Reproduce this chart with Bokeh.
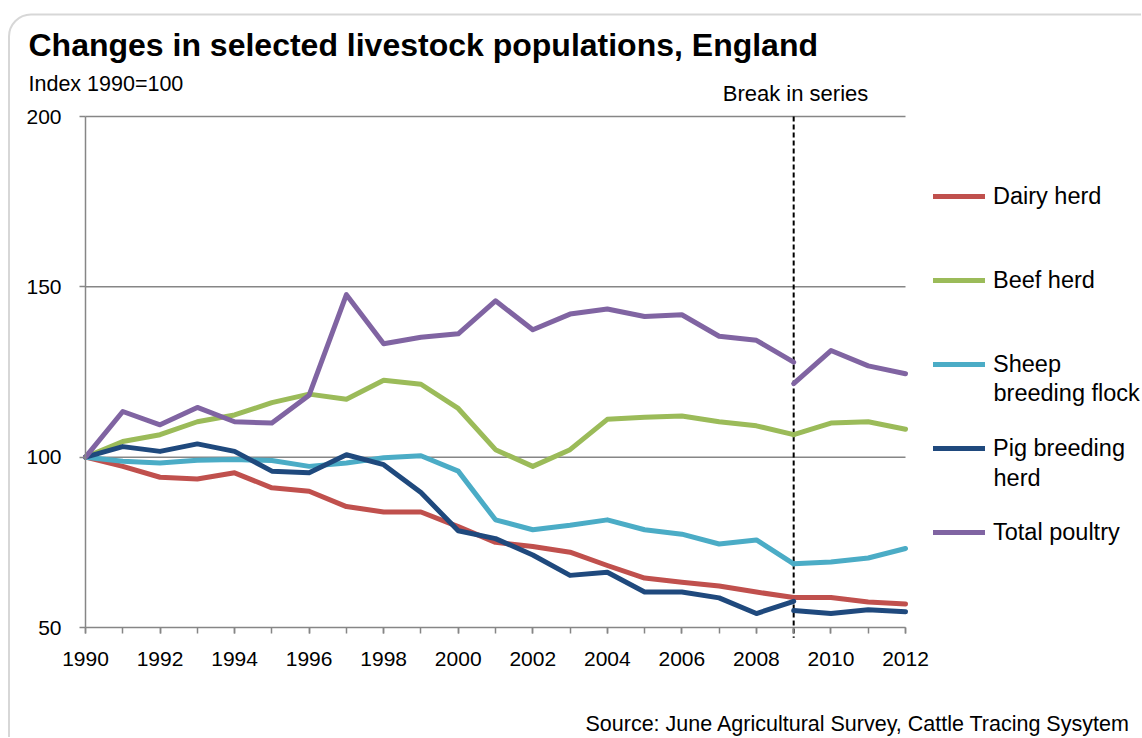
from bokeh.plotting import figure
from bokeh.models import Label, Legend, LegendItem, FixedTicker, BoxAnnotation
from bokeh.embed import file_html
from bokeh.resources import INLINE

# ---------------- data ----------------
years_old = list(range(1990, 2010))
years_new = [2009, 2010, 2011, 2012]

dairy_old = [100, 97.3, 94.1, 93.6, 95.4, 91.0, 90.0, 85.5, 83.9, 83.9,
             79.6, 75.0, 73.8, 72.1, 68.2, 64.5, 63.3, 62.2, 60.4, 58.8]
dairy_new = [58.8, 58.8, 57.5, 56.9]

beef_old = [100, 104.6, 106.6, 110.4, 112.4, 116.0, 118.5, 117.0, 122.6, 121.4,
            114.3, 102.2, 97.3, 102.2, 111.1, 111.7, 112.1, 110.4, 109.2, 106.6]
beef_new = [106.6, 110.0, 110.4, 108.2]

sheep_old = [100, 98.8, 98.3, 99.1, 99.3, 99.0, 97.3, 98.3, 99.8, 100.4,
             95.9, 81.6, 78.7, 80.0, 81.6, 78.7, 77.4, 74.5, 75.7, 68.7]
sheep_new = [68.7, 69.2, 70.4, 73.2]

pig_old = [100, 103.1, 101.7, 103.9, 101.7, 95.9, 95.4, 100.7, 97.8, 89.6,
           78.4, 76.1, 71.3, 65.3, 66.2, 60.4, 60.4, 58.7, 54.1, 57.7]
pig_new = [55.0, 54.1, 55.2, 54.6]

poultry_old = [100, 113.4, 109.5, 114.6, 110.4, 110.0, 118.2, 147.7, 133.3, 135.2,
               136.2, 145.9, 137.4, 142.0, 143.5, 141.3, 141.8, 135.5, 134.3, 127.9]
poultry_new = [121.6, 131.3, 126.8, 124.5]

series_names = ["Dairy herd", "Beef herd", "Sheep", "Pig breeding", "Total poultry"]
series_colors = ["#C0504D", "#9BBB59", "#4BACC6", "#1F497D", "#8064A2"]
series_old = [dairy_old, beef_old, sheep_old, pig_old, poultry_old]
series_new = [dairy_new, beef_new, sheep_new, pig_new, poultry_new]

y_ticks = [50, 100, 150, 200]
x_ticks = list(range(1990, 2013, 2))
x_minor = list(range(1990, 2013))
break_year = 2009

# ---------------- layout ----------------
FONT = "Liberation Sans"
GREY = "#868686"
W, H = 1141, 737
# canvas sits at page (0, 0); plot area 1990..2012 -> x 85..905, 50..200 -> y 627..116
X0, X1 = 1990, 2012
Y0, Y1 = 50, 200
PX0, PX1, PY0, PY1 = 85, 905, 627, 116
sx = (PX1 - PX0) / (X1 - X0)
sy = (PY0 - PY1) / (Y1 - Y0)
x_range = (X0 - PX0 / sx, X1 + (W - PX1) / sx)
y_range = (Y0 - (H - PY0) / sy, Y1 + PY1 / sy)

p = figure(width=W, height=H, x_range=x_range, y_range=y_range,
           output_backend="svg", toolbar_location=None,
           min_border=0)
p.outline_line_color = None
p.background_fill_color = "white"
p.border_fill_color = "white"
p.xgrid.visible = False
p.ygrid.visible = False

p.yaxis.fixed_location = X0
p.xaxis.fixed_location = Y0
p.yaxis.bounds = (Y0, Y1)
p.xaxis.bounds = (X0, X1)
p.yaxis.ticker = FixedTicker(ticks=y_ticks)
p.xaxis.ticker = FixedTicker(ticks=x_ticks, minor_ticks=x_minor)
for ax in (p.xaxis, p.yaxis):
    ax.axis_line_color = GREY
    ax.axis_line_width = 1.5
    ax.major_tick_line_color = GREY
    ax.major_tick_line_width = 1.5
    ax.major_tick_in = 0
    ax.major_tick_out = 6
    ax.major_label_text_font = FONT
    ax.major_label_text_font_size = "21px"
    ax.major_label_text_color = "black"
p.xaxis.minor_tick_line_color = GREY
p.xaxis.minor_tick_line_width = 1.5
p.xaxis.minor_tick_in = 0
p.xaxis.minor_tick_out = 6
p.yaxis.minor_tick_line_color = None
p.yaxis.major_label_standoff = 18
p.xaxis.major_label_standoff = 18

# horizontal gridlines
grid_y = y_ticks[1:]
p.segment(x0=[X0] * len(grid_y), x1=[X1] * len(grid_y), y0=grid_y, y1=grid_y,
          line_color=GREY, line_width=1.5)

# break in series
p.segment(x0=[break_year], x1=[break_year], y0=[Y1], y1=[Y0 - 3],
          line_color="black", line_width=2, line_dash="5 3")

items = []
for name, col, yo, yn in zip(series_names, series_colors, series_old, series_new):
    r1 = p.line(years_old, yo, line_color=col, line_width=5, line_cap="round", line_join="round")
    p.line(years_new, yn, line_color=col, line_width=5, line_cap="round", line_join="round")
    items.append(LegendItem(label=name, renderers=[r1]))

def cx(px): return px
def cy(py): return H - py

legend = Legend(items=items, location=(cx(933), cy(547)), padding=0, margin=0,
                border_line_color=None, background_fill_alpha=0,
                glyph_width=52, glyph_height=30, label_height=30, spacing=54,
                label_standoff=8, label_text_font=FONT, label_text_font_size="23.5px",
                label_text_color="black")
p.add_layout(legend, "center")

# outer rounded frame
p.add_layout(BoxAnnotation(left=cx(8.5), right=W + 200, top=cy(14), bottom=-200,
                           left_units="screen", right_units="screen",
                           top_units="screen", bottom_units="screen",
                           fill_alpha=0, line_color="#7a7a7a", line_width=2,
                           border_radius=22))

def lab(text, x, y, size, bold=False, align="left"):
    p.add_layout(Label(x=x, y=y, x_units="screen", y_units="screen", text=text,
                       text_font=FONT, text_font_size=size, text_align=align,
                       text_baseline="middle",
                       text_font_style="bold" if bold else "normal", text_color="black"))

lab("Changes in selected livestock populations, England", cx(28), cy(44), "32px", bold=True)
lab("Index 1990=100", cx(28), cy(83), "21.5px")
lab("Break in series", cx(795), cy(93), "22px", align="center")
lab("breeding flock", cx(993), cy(392), "23.5px")
lab("herd", cx(993), cy(477), "23.5px")
lab("Source: June Agricultural Survey, Cattle Tracing Sysytem", cx(585), cy(723), "21.5px")

open("out.html", "w").write(file_html(p, INLINE))
